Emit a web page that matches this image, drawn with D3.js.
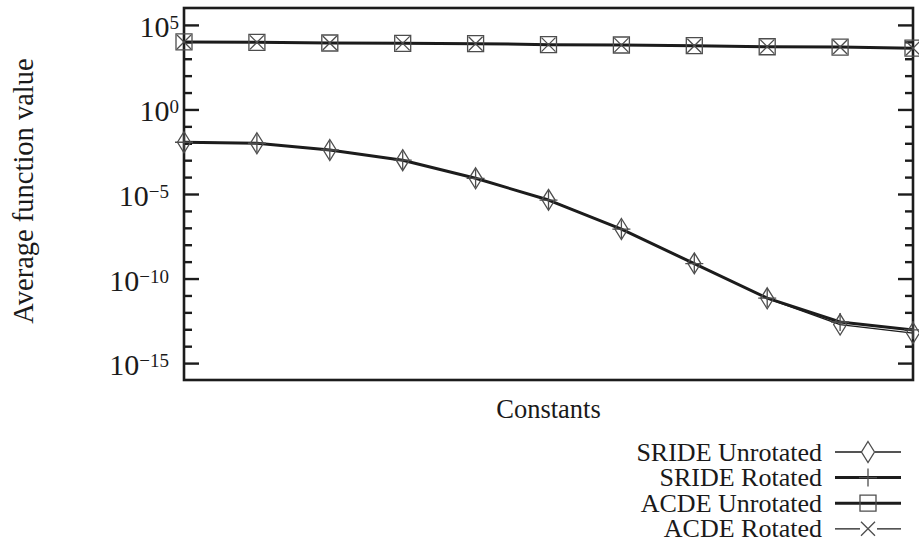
<!DOCTYPE html>
<html>
<head>
<meta charset="utf-8">
<script src="https://cdn.jsdelivr.net/npm/d3@7/dist/d3.min.js"></script>
<style>
  html, body { margin: 0; padding: 0; background: #fff; }
  svg { display: block; }
  text { font-family: "Liberation Serif", "Times New Roman", serif; fill: #1a1a1a; }
</style>
</head>
<body>
<svg id="chart" width="919" height="548"></svg>
<script>
// Constants tested (x positions, no tick labels shown)
const constants = [1, 2, 3, 4, 5, 6, 7, 8, 9, 10, 11];

// Average function value per constant
const srideUnrotated = [1.15e-2, 1.0e-2, 4.0e-3, 1.0e-3, 8.5e-5, 4.5e-6, 8.5e-8, 7.9e-10, 6.8e-12, 1.9e-13, 6.0e-14];
const srideRotated   = [1.15e-2, 1.0e-2, 4.0e-3, 1.0e-3, 8.5e-5, 4.4e-6, 8.3e-8, 7.6e-10, 7.0e-12, 2.7e-13, 9.1e-14];
const acdeUnrotated  = [9.8e3, 9.3e3, 8.5e3, 8.1e3, 7.8e3, 6.8e3, 6.5e3, 5.9e3, 5.1e3, 4.9e3, 4.2e3];
const acdeRotated    = [9.7e3, 9.3e3, 8.6e3, 8.1e3, 7.7e3, 6.8e3, 6.4e3, 5.9e3, 5.2e3, 4.9e3, 4.2e3];

// Y-axis tick labels (exponents of ten)
const majorExponents = [5, 0, -5, -10, -15];
const minorExponents = [4, 3, 2, 1, -1, -2, -3, -4, -6, -7, -8, -9, -11, -12, -13, -14];

const seriesNames = ["SRIDE Unrotated", "SRIDE Rotated", "ACDE Unrotated", "ACDE Rotated"];

const svg = d3.select("#chart");
const plot = { left: 184, right: 913, top: 8, bottom: 380 };

const x = d3.scalePoint().domain(constants).range([plot.left, plot.right]).padding(0);
const y = d3.scaleLog().domain([1e-16, 1e6]).range([plot.bottom, plot.top]);

const ink = "#1c1c1c";
const markInk = "#4d4d4d";

// Inward ticks on both vertical sides
const majorVals = majorExponents.map(e => Math.pow(10, e));
const minorVals = minorExponents.map(e => Math.pow(10, e));

function tickAxis(axisFn, xpos, vals, size) {
  const g = svg.append("g").attr("transform", `translate(${xpos},0)`)
    .call(axisFn(y).tickValues(vals).tickSize(size).tickFormat(""));
  g.select(".domain").remove();
  g.selectAll(".tick line").attr("stroke", ink).attr("stroke-width", 2.4);
  return g;
}
tickAxis(d3.axisRight, plot.left, majorVals, 15);
tickAxis(d3.axisRight, plot.left, minorVals, 8);
tickAxis(d3.axisLeft, plot.right, majorVals, 15);
tickAxis(d3.axisLeft, plot.right, minorVals, 8);

// Tick labels 10^n
const labels = svg.append("g");
majorExponents.forEach(e => {
  const t = labels.append("text")
    .attr("x", e < 0 ? 169 : 179)
    .attr("y", y(Math.pow(10, e)) + 12)
    .attr("text-anchor", "end")
    .style("font-size", "30px");
  t.append("tspan").text("10");
  t.append("tspan").attr("dy", -8).style("font-size", "19px")
    .text(e < 0 ? "\u2212" + Math.abs(e) : String(e));
});

// Frame
svg.append("rect")
  .attr("x", plot.left).attr("y", plot.top)
  .attr("width", plot.right - plot.left).attr("height", plot.bottom - plot.top)
  .attr("fill", "none").attr("stroke", ink).attr("stroke-width", 2.6);

// Axis titles
svg.append("text")
  .attr("transform", `translate(33,${(plot.top + plot.bottom) / 2 - 3}) rotate(-90)`)
  .attr("text-anchor", "middle")
  .style("font-size", "28.5px")
  .text("Average function value");

svg.append("text")
  .attr("x", (plot.left + plot.right) / 2)
  .attr("y", 418)
  .attr("text-anchor", "middle")
  .style("font-size", "26.5px")
  .text("Constants");

// Marker shapes
const markers = {
  diamond: "M0,-10.5L6.5,0L0,10.5L-6.5,0Z",
  plus: "M0,-9V9M-9,0H9",
  square: "M-8,-8H8V8H-8Z",
  cross: "M-7,-7L7,7M-7,7L7,-7"
};

const series = [
  { name: seriesNames[0], values: srideUnrotated, width: 1.3, marker: "diamond" },
  { name: seriesNames[1], values: srideRotated, width: 3, marker: "plus" },
  { name: seriesNames[2], values: acdeUnrotated, width: 3, marker: "square" },
  { name: seriesNames[3], values: acdeRotated, width: 1.3, marker: "cross" }
];

const line = d3.line()
  .x((d, i) => x(constants[i]))
  .y(d => y(d));

series.forEach(s => {
  svg.append("path")
    .attr("d", line(s.values))
    .attr("fill", "none")
    .attr("stroke", ink)
    .attr("stroke-width", s.width)
    .attr("stroke-linejoin", "round");
});

series.forEach(s => {
  svg.append("g").selectAll("path")
    .data(s.values)
    .join("path")
    .attr("transform", (d, i) => `translate(${x(constants[i])},${y(d)})`)
    .attr("d", markers[s.marker])
    .attr("fill", "none")
    .attr("stroke", markInk)
    .attr("stroke-width", 1.3);
});

// Legend
const legend = svg.append("g");
series.forEach((s, i) => {
  const base = 460.5 + i * 25.6;
  const ly = base - 8.5;
  legend.append("text")
    .attr("x", 822).attr("y", base)
    .attr("text-anchor", "end")
    .style("font-size", "26px")
    .text(s.name);
  if (s.width < 2) {
    legend.append("path")
      .attr("d", `M835,${ly}H${s.marker === "diamond" ? 862 : 860}M${s.marker === "diamond" ? 875 : 877},${ly}H901`)
      .attr("stroke", ink).attr("stroke-width", s.width).attr("fill", "none");
  } else {
    legend.append("path")
      .attr("d", `M835,${ly}H901`)
      .attr("stroke", ink).attr("stroke-width", s.width).attr("fill", "none");
  }
  legend.append("path")
    .attr("transform", `translate(868,${ly})`)
    .attr("d", markers[s.marker])
    .attr("fill", "none")
    .attr("stroke", markInk)
    .attr("stroke-width", 1.3);
});
</script>
</body>
</html>
